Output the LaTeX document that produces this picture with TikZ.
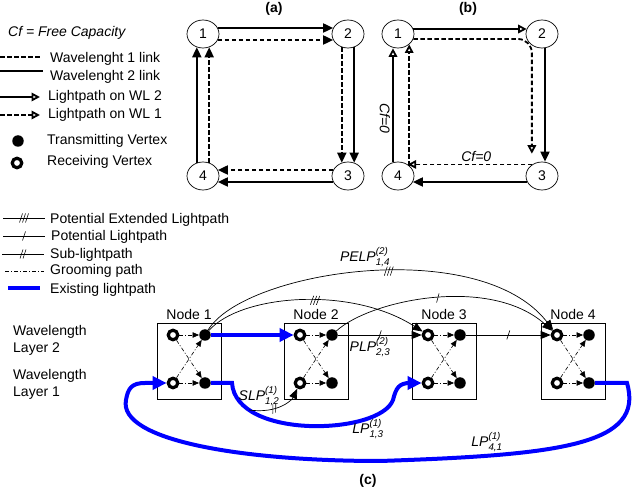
\documentclass[tikz,border=0pt]{standalone}
\usepackage{amsmath}
\usepackage{fontspec}
\setmainfont{Liberation Sans}
\usetikzlibrary{arrows.meta, positioning, calc, shapes.geometric, decorations.markings}
\definecolor{lpblue}{HTML}{0000FF}
\newcommand{\lpname}[3]{$\textit{#1}^{\textit{(#2)}}_{\textit{#3}}$}

\tikzset{
  tickone/.style={postaction={decorate, decoration={markings, mark=at position #1 with {\draw[solid, line width=0.6pt, -] (-1.5pt,-4.5pt) -- (1.5pt,4.5pt);}}}},
  ticktwo/.style={postaction={decorate, decoration={markings, mark=at position #1 with {\draw[solid, line width=0.6pt, -] (-3pt,-4.5pt) -- (0pt,4.5pt) (0pt,-4.5pt) -- (3pt,4.5pt);}}}},
  tickthree/.style={postaction={decorate, decoration={markings, mark=at position #1 with {\draw[solid, line width=0.6pt, -] (-4.5pt,-4.5pt) -- (-1.5pt,4.5pt) (-1.5pt,-4.5pt) -- (1.5pt,4.5pt) (1.5pt,-4.5pt) -- (4.5pt,4.5pt);}}}}
}

\begin{document}
\begin{tikzpicture}[
  x=1pt, y=-1pt,
  font=\fontsize{14}{17}\selectfont,
  vtx/.style={ellipse, draw, line width=0.7pt, minimum width=32pt, minimum height=28pt, inner sep=0pt},
  wltwo/.style={line width=1.8pt},
  wlone/.style={line width=1.8pt, dash pattern=on 4.5pt off 2.5pt},
  fillhead/.style={-{Triangle[length=10pt, width=9pt]}},
  openhead/.style={-{Triangle[open, length=8.5pt, width=8.5pt]}},
  partlab/.style={font=\fontsize{14}{17}\selectfont\bfseries},
  cflab/.style={font=\fontsize{14}{17}\selectfont\itshape, inner sep=2pt},
  legtext/.style={anchor=west, inner sep=0pt},
  nodebox/.style={draw, line width=0.7pt, minimum width=64pt, minimum height=76pt, inner sep=0pt},
  rxv/.style={circle, draw, line width=3.2pt, minimum size=9.5pt, inner sep=0pt},
  txv/.style={circle, fill, minimum size=11.5pt, inner sep=0pt},
  groom/.style={line width=0.6pt, dash pattern=on 4pt off 2pt on 1pt off 2pt, -{Triangle[length=6.5pt, width=5.5pt]}},
  potlp/.style={line width=0.7pt, -{Triangle[length=10pt, width=8pt]}},
  exlp/.style={lpblue, line width=4pt, -{Triangle[length=14pt, width=13pt]}}
]
  \useasboundingbox (0,0) rectangle (633,497);

  % legend of (a) and (b)
  \node[legtext, font=\fontsize{14}{17}\selectfont\itshape] (cfnote) at (8,33) {Cf = Free Capacity};
  \draw[wlone] (0,57) -- (42,57);
  \node[legtext] (lgwlone) at (50,59) {Wavelenght 1 link};
  \draw[wltwo] (0,71) -- (43,71);
  \node[legtext] (lgwltwo) at (50,77) {Wavelenght 2 link};
  \draw[wltwo, openhead] (0,97) -- (40,97);
  \node[legtext] (lglptwo) at (48,97) {Lightpath on WL 2};
  \draw[wlone, openhead] (0,115) -- (40,115);
  \node[legtext] (lglpone) at (48,115) {Lightpath on WL 1};
  \node[txv] (lgtx) at (18,141) {};
  \node[legtext] (lgtxt) at (47,141) {Transmitting Vertex};
  \node[rxv] (lgrx) at (17,163) {};
  \node[legtext] (lgrxt) at (47,162) {Receiving Vertex};

  % (a)
  \node[partlab] (alab) at (274,9) {(a)};
  \node[vtx] (a1) at (203,34) {1};
  \node[vtx] (a2) at (348,34) {2};
  \node[vtx] (a3) at (348,176) {3};
  \node[vtx] (a4) at (203,176) {4};
  \draw[wltwo, fillhead] (a1.22) -- (a2.158);
  \draw[wlone, fillhead] (a1.-22) -- (a2.202);
  \draw[wlone, fillhead] (a2.245) -- (a3.115);
  \draw[wltwo, fillhead] (a2.295) -- (a3.65);
  \draw[wlone, fillhead] (a3.158) -- (a4.22);
  \draw[wltwo, fillhead] (a3.202) -- (a4.-22);
  \draw[wltwo, fillhead] (a4.115) -- (a1.245);
  \draw[wlone, fillhead] (a4.65) -- (a1.295);

  % (b)
  \node[partlab] (blab) at (468,9) {(b)};
  \node[vtx] (b1) at (398,34) {1};
  \node[vtx] (b2) at (542,34) {2};
  \node[vtx] (b3) at (542,176) {3};
  \node[vtx] (b4) at (398,176) {4};
  \draw[wltwo, openhead] (b1.18) -- (b2.162);
  \draw[wlone, openhead, rounded corners=14pt, shorten >=11pt] (b1.-18) -| (b3.132);
  \draw[wltwo, fillhead] ([xshift=3pt]b2.south) -- ([xshift=3pt]b3.north);
  \draw[wlone, openhead] (b3.130) -- (b4.50) node[cflab, pos=0.45, above] (cfbot) {Cf=0};
  \draw[wltwo, fillhead] (b3.202) -- (b4.-22);
  \draw[wltwo, openhead] ([xshift=-5pt]b4.north) -- ([xshift=-5pt]b1.south) node[cflab, pos=0.38, rotate=-90, anchor=north] (cfleft) {Cf=0};
  \draw[wlone, openhead] (b4.43) -- (b1.-43);

  % (c) legend
  \draw[line width=0.7pt, tickthree=0.5] (3,218) -- (45,218);
  \node[legtext] (lgpelp) at (50,220) {Potential Extended Lightpath};
  \draw[line width=0.7pt, tickone=0.5] (3,236) -- (45,236);
  \node[legtext] (lgplp) at (51,237) {Potential Lightpath};
  \draw[line width=0.7pt, ticktwo=0.5] (2,254) -- (44,254);
  \node[legtext] (lgslp) at (50,255) {Sub-lightpath};
  \draw[line width=0.7pt, dash pattern=on 4pt off 2pt on 1pt off 2pt] (5,271) -- (44,271);
  \node[legtext] (lggroom) at (50,271) {Grooming path};
  \draw[lpblue, line width=4pt] (8,288) -- (40,288);
  \node[legtext] (lgexlp) at (50,290) {Existing lightpath};

  \node[legtext, align=left] (layertwo) at (13,340) {Wavelength\\Layer 2};
  \node[legtext, align=left] (layerone) at (13,384) {Wavelength\\Layer 1};

  % (c) nodes with both wavelength layers
  \foreach \n/\cx in {1/189, 2/316, 3/444, 4/573} {
    \node[nodebox, label={[inner sep=3pt]above:Node \n}] (box\n) at (\cx,361) {};
    \node[rxv] (rt\n) at (\cx-16,335) {};
    \node[txv] (dt\n) at (\cx+16,335) {};
    \node[rxv] (rb\n) at (\cx-16,383) {};
    \node[txv] (db\n) at (\cx+16,383) {};
    \draw[groom] (rt\n) -- (dt\n);
    \draw[groom] (rb\n) -- (db\n);
    \draw[groom] (rt\n) -- (db\n);
    \draw[groom] (rb\n) -- (dt\n);
  }

  % existing lightpaths
  \draw[exlp] (dt1) -- (rt2);
  \draw[exlp] (db1) -- (232,383) .. controls (236,440) and (380,435) .. (393,400) coordinate[pos=0.2] (slpfoot)
    .. controls (396,388) and (399,383) .. (410,383) -- (rb3);
  \draw[exlp] (db4) -- (627,383) .. controls (645,445) and (560,455) .. (380,461)
    .. controls (240,461) and (118,440) .. (126,400) .. controls (128,388) and (132,383) .. (145,383) -- (rb1);

  % potential and sub-lightpaths
  \draw[potlp, tickone=0.5] (dt2) -- (rt3);
  \draw[potlp, tickone=0.5] (dt3) -- (rt4);
  \draw[potlp, tickthree=0.5] (dt1) .. controls (240,295) and (350,285) .. (rt3);
  \draw[potlp, tickthree=0.52] (dt1) .. controls (245,270) and (480,235) .. (rt4);
  \draw[potlp, tickone=0.47] (dt2) .. controls (370,300) and (490,275) .. (rt4);
  \draw[potlp, ticktwo=0.45] (slpfoot) .. controls (278,414) and (292,400) .. (rb2);

  % path names
  \node (pelp) at (365,257) {\lpname{PELP}{2}{1,4}};
  \node (plp) at (370,347) {\lpname{PLP}{2}{2,3}};
  \node (slp) at (259,396) {\lpname{SLP}{1}{1,2}};
  \node (lpot) at (368,429) {\lpname{LP}{1}{1,3}};
  \node (lpfo) at (487,442) {\lpname{LP}{1}{4,1}};

  \node[partlab] (clab) at (368,481) {(c)};
\end{tikzpicture}
\end{document}
